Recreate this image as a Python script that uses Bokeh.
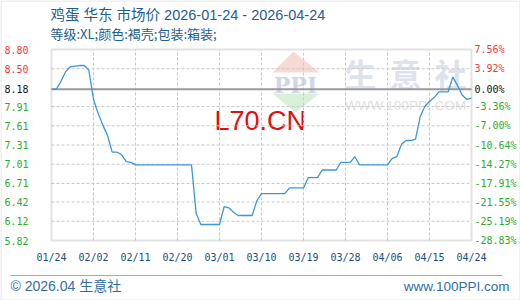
import pandas as pd
from bokeh.plotting import figure
from bokeh.models import Range1d, Label, BoxAnnotation, PolyAnnotation
from bokeh.embed import file_html
from bokeh.resources import INLINE

# ---------------- data ----------------
title_line1 = "鸡蛋 华东 市场价 2026-01-24 - 2026-04-24"
title_line2 = "等级:XL;颜色:褐壳;包装:箱装;"
footer_left = "© 2026.04 生意社"
footer_right = "www.100PPI.com"
start_date = "2026-01-24"

prices = [
    8.18, 8.18, 8.30, 8.45, 8.53, 8.54, 8.55, 8.55, 8.48, 8.02,
    7.80, 7.62, 7.46, 7.20, 7.20, 7.16, 7.05, 7.04, 7.00, 7.00,
    7.00, 7.00, 7.00, 7.00, 7.00, 7.00, 7.00, 7.00, 7.00, 7.00,
    7.00, 6.24, 6.07, 6.07, 6.07, 6.07, 6.07, 6.35, 6.33, 6.26,
    6.21, 6.21, 6.21, 6.21, 6.44, 6.55, 6.55, 6.55, 6.55, 6.55,
    6.55, 6.64, 6.64, 6.64, 6.64, 6.80, 6.80, 6.80, 6.92, 6.92,
    6.92, 6.92, 7.04, 7.04, 7.04, 7.13, 7.00, 7.00, 7.00, 7.00,
    7.00, 7.00, 7.00, 7.10, 7.13, 7.32, 7.38, 7.38, 7.40, 7.75,
    7.91, 7.99, 8.05, 8.14, 8.14, 8.14, 8.37, 8.24, 8.09, 8.02,
    8.04,
]
dates = pd.date_range(start_date, periods=len(prices), freq="D")

x_tick_labels = ["01/24", "02/02", "02/11", "02/20", "03/01", "03/10",
                 "03/19", "03/28", "04/06", "04/15", "04/24"]
y_ticks = [5.82, 6.12, 6.42, 6.71, 7.01, 7.31, 7.61, 7.91, 8.18, 8.50, 8.80]
y_tick_labels = ["5.82", "6.12", "6.42", "6.71", "7.01", "7.31", "7.61",
                 "7.91", "8.18", "8.50", "8.80"]
pct_labels = ["-28.83%", "-25.19%", "-21.55%", "-17.91%", "-14.27%", "-10.64%",
              "-7.00%", "-3.36%", "0.00%", "3.92%", "7.56%"]
base_price = 8.18

# ---------------- layout (pixels) ----------------
W, H = 520, 300
PL, PR, PT, PB = 51, 49, 49, 60          # plot-area margins
FW, FH = W - PL - PR, H - PT - PB

tick_dates = [pd.Timestamp("2026/" + s) for s in x_tick_labels]
x0, x1 = dates[0], dates[-1]
y0, y1 = y_ticks[0], y_ticks[-1]
day_px = FW / ((x1 - x0) / pd.Timedelta(days=1))
val_px = FH / (y1 - y0)
x_range = Range1d(x0 - pd.Timedelta(days=PL / day_px), x1 + pd.Timedelta(days=PR / day_px))
y_range = Range1d(y0 - PB / val_px, y1 + PT / val_px)

p = figure(width=W, height=H, x_axis_type="datetime",
           x_range=x_range, y_range=y_range,
           output_backend="svg", toolbar_location=None,
           min_border_left=0, min_border_right=0,
           min_border_top=0, min_border_bottom=0,
           x_axis_location=None, y_axis_location=None)
p.background_fill_color = "white"
p.border_fill_color = "white"
p.outline_line_color = None
p.xgrid.visible = False
p.ygrid.visible = False

MIXED = "Liberation Sans, Noto Sans CJK SC"

def ms(t):
    return int(pd.Timestamp(t).timestamp() * 1000)

def cv_label(x, y, text, **kw):
    p.add_layout(Label(x=x, y=y, x_units="canvas", y_units="canvas",
                       text=text, **kw))

# ---------------- watermark ----------------
p.add_layout(PolyAnnotation(xs=[293, 272, 319], ys=[51, 72, 72],
                            xs_units="canvas", ys_units="canvas",
                            fill_color="#f7dad6", fill_alpha=1, line_color=None,
                            level="underlay"))
p.add_layout(PolyAnnotation(xs=[272, 319, 295], ys=[93, 93, 112],
                            xs_units="canvas", ys_units="canvas",
                            fill_color="#d8efd8", fill_alpha=1, line_color=None,
                            level="underlay"))
cv_label(295, 84, "PPI", text_font="DejaVu Serif", text_font_style="bold",
         text_font_size="22px", text_color="#cfd6e8", text_align="center",
         text_baseline="middle", level="underlay")
for cx, ch in zip([360, 405, 450], "生意社"):
    cv_label(cx, 72, ch, text_font="Noto Sans CJK SC", text_font_style="bold",
             text_font_size="32px", text_color="#dde2ee", text_align="center",
             text_baseline="middle", level="underlay")
cv_label(405, 105, "WWW.100PPI.COM", text_font="Liberation Sans",
         text_font_size="13.5px", text_color="#e0e0e0", text_align="center",
         text_baseline="middle", level="underlay")
cv_label(214, 120, "L70.CN", text_font="Liberation Sans", text_font_size="27px",
         text_color="#dd1111", text_align="left", text_baseline="middle",
         level="underlay")

# ---------------- grid ----------------
grid_kw = dict(line_color="#c8c8c8", line_dash="3 2", line_width=1)
p.segment(x0=tick_dates[1:-1], y0=y0, x1=tick_dates[1:-1], y1=y1, **grid_kw)
h_ticks = [v for v in y_ticks[1:-1] if v != base_price]
p.segment(x0=x0, y0=h_ticks, x1=x1, y1=h_ticks, **grid_kw)
p.segment(x0=x0, y0=base_price, x1=x1, y1=base_price,
          line_color="#9a9a9a", line_width=2)

# ---------------- price line ----------------
p.line(dates, prices, line_color="#3b97d8", line_width=1.3)

# plot-area frame
p.add_layout(BoxAnnotation(left=ms(x0), right=ms(x1), bottom=y0, top=y1,
                           fill_alpha=0, line_color="#a0a0a0", line_width=2))

# ---------------- tick labels ----------------
for v, lbl, pl in zip(y_ticks, y_tick_labels, pct_labels):
    if v > base_price:
        c = "#f03a3a"
    elif v == base_price:
        c = "#111111"
    else:
        c = "#2eaa2e"
    p.add_layout(Label(x=28, y=v, x_units="canvas", text=lbl,
                       text_font="DejaVu Sans Mono", text_font_size="10px",
                       text_color=c, text_align="right", text_baseline="middle"))
    p.add_layout(Label(x=474, y=v, x_units="canvas", text=pl,
                       text_font="DejaVu Sans Mono", text_font_size="10px",
                       text_color=c, text_align="left", text_baseline="middle"))

for t, lbl in zip(tick_dates, x_tick_labels):
    p.add_layout(Label(x=ms(t), y=257, y_units="canvas", text=lbl,
                       text_font="DejaVu Sans Mono", text_font_size="10px",
                       text_color="#1b4d7e", text_align="center",
                       text_baseline="middle"))

# ---------------- titles & footer ----------------
cv_label(50, 14, title_line1, text_font=MIXED,
         text_font_size="14.5px", text_color="#1f5d8c", text_baseline="middle")
cv_label(50, 33, title_line2, text_font="Noto Sans CJK SC",
         text_font_size="13px", text_color="#1f5d8c", text_baseline="middle")
cv_label(10, 285.5, footer_left, text_font=MIXED,
         text_font_size="14px", text_color="#2f6ea3", text_baseline="middle")
cv_label(509, 285.5, footer_right, text_font="Liberation Sans",
         text_font_size="13.5px", text_color="#2f6ea3", text_baseline="middle",
         text_align="right")

p.add_layout(BoxAnnotation(left=10, right=502, top=274.5, bottom=275.5,
                           left_units="canvas", right_units="canvas",
                           top_units="canvas", bottom_units="canvas",
                           fill_color="#aaaaaa", fill_alpha=1, line_color=None))
p.add_layout(BoxAnnotation(left=0.5, right=519.5, top=0.5, bottom=299.5,
                           left_units="canvas", right_units="canvas",
                           top_units="canvas", bottom_units="canvas",
                           fill_alpha=0, line_color="#999999", line_width=1))

open("out.html", "w").write(file_html(p, INLINE))
